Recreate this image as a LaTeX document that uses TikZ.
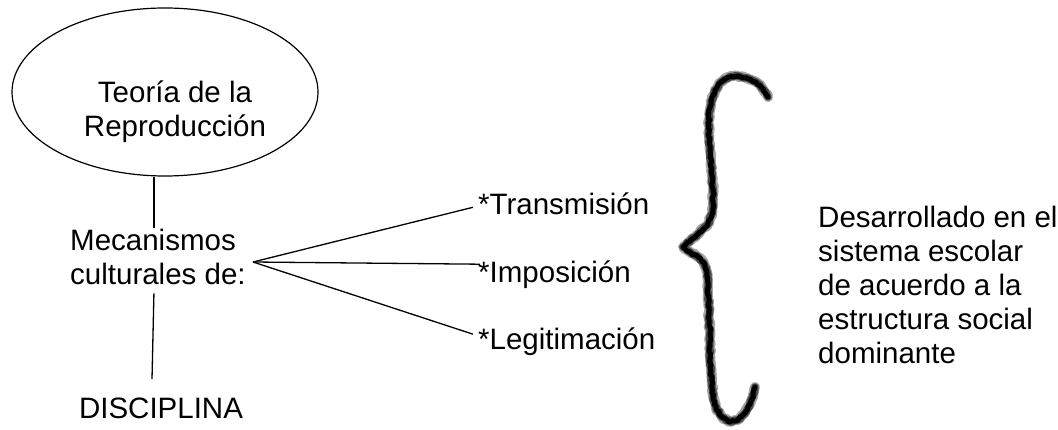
\documentclass[tikz,border=0pt]{standalone}
\usepackage{fontspec}
\setmainfont{Liberation Sans}
\usetikzlibrary{shapes.geometric,decorations.pathmorphing}
\begin{document}
\begin{tikzpicture}[x=1pt,y=-1pt,
  txt/.style={font=\fontsize{29.5}{34}\selectfont, inner sep=0pt, align=left},
  link/.style={line width=1.3pt, black},
  bracestroke/.style={decorate, line cap=round, line join=round,
    decoration={random steps, segment length=2.5pt, amplitude=1pt}}]
\useasboundingbox (0,0) rectangle (1058,430);

% main concept (multi-line nodes are placed by the baseline of their last line)
\node[ellipse, draw, line width=1.2pt, minimum width=306pt, minimum height=168pt, inner sep=0pt] (teoria) at (165,92) {};
\node[txt, align=center, anchor=base] (teoriatxt) at (175,137) {Teoría de la\\Reproducción};

% left column
\node[txt, anchor=base west] (mec) at (70,285) {Mecanismos\\culturales de:};
\node[txt, anchor=base] (disc) at (161,418) {DISCIPLINA};

% the three mechanisms
\node[txt, anchor=base west] (trans) at (478,215) {*Transmisión};
\node[txt, anchor=base west] (impo) at (478,283) {*Imposición};
\node[txt, anchor=base west] (legi) at (478,350) {*Legitimación};

% note to the right of the brace
\node[txt, anchor=base west] (desa) at (818,363) {Desarrollado en el\\sistema escolar\\de acuerdo a la\\estructura social\\dominante};

% connectors
\coordinate (fan) at (253,262);
\draw[link] ([xshift=-11pt]teoria.south) -- ++(0,51);
\draw[link] ([shift={(-4,8)}]mec.south) -- ([shift={(-9,-18)}]disc.north);
\draw[link] (fan) -- ([shift={(-5,3)}]trans.west);
\draw[link] (fan) -- ([shift={(2,-11)}]impo.west);
\draw[link] (fan) -- ([shift={(-5,-8)}]legi.west);

% hand-drawn brace, stroked in layers for a charcoal look
\foreach \w/\c in {10/black!35, 7.5/black!70, 5/black} {
  \draw[bracestroke, line width=\w pt, \c]
    (768,97) -- (763,89) -- (756,82) -- (747,78) -- (738,76) -- (729,77)
    -- (721,82) -- (715,90) -- (711,101) -- (709,113) -- (709,125)
    -- (709,137) -- (710,150) -- (711,163) -- (712,176) -- (713,189)
    -- (713,202) -- (712,214) -- (708,224) -- (700,232) -- (691,240)
    -- (683,247) -- (690,252) -- (698,257) -- (704,263) -- (707,272)
    -- (708,283) -- (708,295) -- (709,307) -- (709,320) -- (710,333)
    -- (710,346) -- (710,359) -- (711,372) -- (712,385) -- (713,397)
    -- (716,408) -- (722,417) -- (730,422) -- (738,420) -- (745,413)
    -- (750,404) -- (753,395) -- (755,387);
}
\end{tikzpicture}
\end{document}
